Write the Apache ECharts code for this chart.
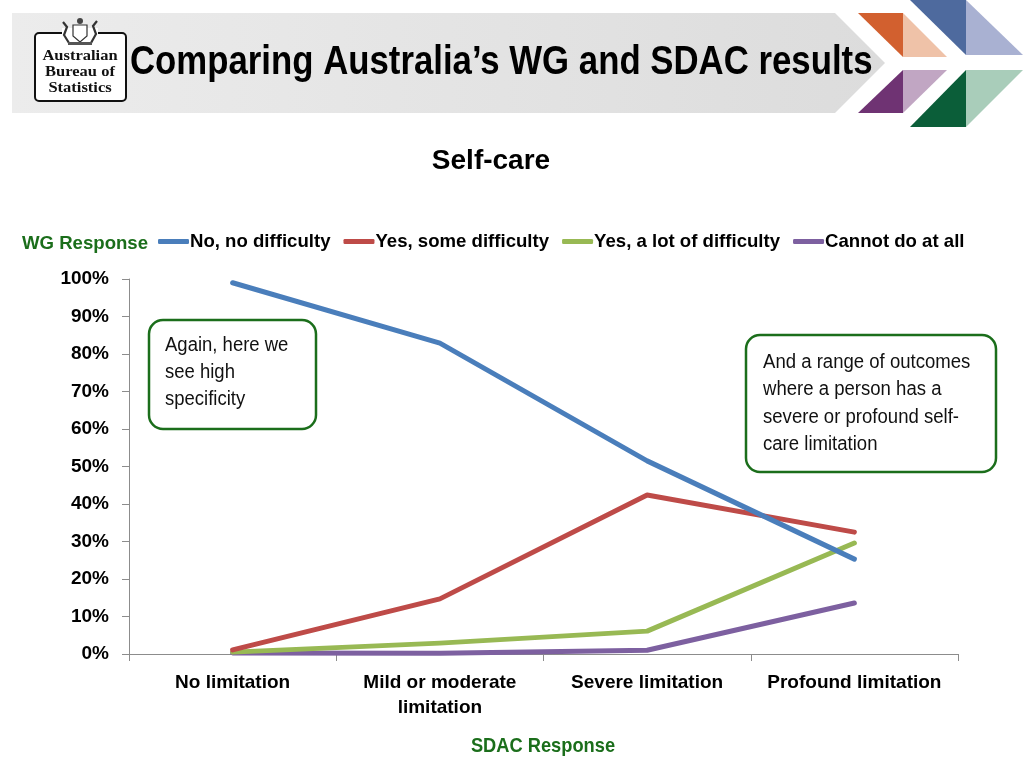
<!DOCTYPE html>
<html>
<head>
<meta charset="utf-8">
<script src="https://cdn.jsdelivr.net/npm/echarts@6/dist/echarts.min.js"></script>
<style>
html,body{margin:0;padding:0;background:#fff;}
#chart{width:1024px;height:768px;}
</style>
</head>
<body>
<div id="chart"></div>
<script>
// ---- data ----
const categories = ['No limitation', 'Mild or moderate\nlimitation', 'Severe limitation', 'Profound limitation'];
const seriesNames = ['No, no difficulty', 'Yes, some difficulty', 'Yes, a lot of difficulty', 'Cannot do at all'];
const noDifficulty = [99.0, 82.9, 51.5, 25.3];
const someDifficulty = [1.1, 14.7, 42.4, 32.5];
const lotDifficulty = [0.5, 2.9, 6.1, 29.6];
const cannotDo = [0.3, 0.2, 1.0, 13.6];
const yTicks = {min: 0, max: 100, interval: 10};

const seriesColors = ['#4A7EBB', '#BE4B48', '#98B954', '#7D60A0'];
const sans = '"Liberation Sans", Arial, sans-serif';
const serif = '"Liberation Serif", "DejaVu Serif", serif';
const green = '#1B6E1B';

const chart = echarts.init(document.getElementById('chart'));
const values = [noDifficulty, someDifficulty, lotDifficulty, cannotDo];

const option = {
  backgroundColor: '#ffffff',
  animation: false,
  grid: {left: 129, right: 66, top: 279, bottom: 114, containLabel: false},
  legend: {
    top: 232, left: 158, padding: 0,
    itemWidth: 31, itemHeight: 5, itemGap: 13,
    icon: 'roundRect',
    textStyle: {fontFamily: sans, fontWeight: 'bold', fontSize: 18.6, color: '#000', padding: [0,0,0,-4]},
    data: seriesNames
  },
  xAxis: {
    type: 'category',
    data: categories,
    boundaryGap: true,
    axisLine: {show: true, lineStyle: {color: '#8C8C8C', width: 1}},
    axisTick: {show: true, length: 7, alignWithLabel: false, lineStyle: {color: '#8C8C8C'}},
    axisLabel: {fontFamily: sans, fontWeight: 'bold', fontSize: 19, color: '#000', margin: 16, lineHeight: 25, interval: 0}
  },
  yAxis: {
    type: 'value',
    min: yTicks.min, max: yTicks.max, interval: yTicks.interval,
    axisLine: {show: true, lineStyle: {color: '#8C8C8C', width: 1}},
    axisTick: {show: true, length: 7, lineStyle: {color: '#8C8C8C'}},
    splitLine: {show: false},
    axisLabel: {formatter: '{value}%', fontFamily: sans, fontWeight: 'bold', fontSize: 19, color: '#000', margin: 20}
  },
  series: seriesNames.map((n, i) => ({
    name: n, type: 'line', data: values[i],
    symbol: 'none', smooth: false,
    lineStyle: {color: seriesColors[i], width: 5, cap: 'round', join: 'round'},
    itemStyle: {color: seriesColors[i]},
    z: 2 + (3 - i)
  })),
  graphic: [
    // banner
    {type: 'polygon', shape: {points: [[12,13],[835,13],[885,63],[835,113],[12,113]]},
      style: {fill: new echarts.graphic.LinearGradient(0,0,1,0,[{offset:0,color:'#ececec'},{offset:0.5,color:'#e4e4e4'},{offset:1,color:'#dcdcdc'}])}, z: 0},
    // decorative triangles
    {type: 'polygon', shape: {points: [[858,13],[903,13],[903,57]]}, style: {fill: '#D2602F'}},
    {type: 'polygon', shape: {points: [[903,13],[947,57],[903,57]]}, style: {fill: '#EFC2A8'}},
    {type: 'polygon', shape: {points: [[903,70],[903,113],[858,113]]}, style: {fill: '#6F3373'}},
    {type: 'polygon', shape: {points: [[903,70],[947,70],[903,113]]}, style: {fill: '#C1A6C3'}},
    {type: 'polygon', shape: {points: [[910,0],[966,0],[966,55]]}, style: {fill: '#4E6A9E'}},
    {type: 'polygon', shape: {points: [[966,0],[1023,55],[966,55]]}, style: {fill: '#A9B1D2'}},
    {type: 'polygon', shape: {points: [[966,70],[966,127],[910,127]]}, style: {fill: '#0B5E39'}},
    {type: 'polygon', shape: {points: [[966,70],[1023,70],[966,127]]}, style: {fill: '#A9CDBA'}},
    // logo
    {type: 'rect', shape: {x: 35, y: 33, width: 91, height: 68, r: 4}, style: {fill: '#fff', stroke: '#111', lineWidth: 2}},
    {type: 'rect', shape: {x: 62, y: 28, width: 36, height: 12}, style: {fill: '#fff'}},
    {type: 'polygon', shape: {points: [[73,25],[87,25],[87,36],[80,42],[73,36]]}, style: {fill: '#fff', stroke: '#333', lineWidth: 1.2}},
    {type: 'circle', shape: {cx: 80, cy: 21, r: 3}, style: {fill: '#444'}},
    {type: 'polyline', shape: {points: [[69,43],[64,35],[67,27],[63,22]]}, style: {stroke: '#333', lineWidth: 2.2, fill: null}},
    {type: 'polyline', shape: {points: [[91,43],[96,34],[93,26],[97,21]]}, style: {stroke: '#333', lineWidth: 2.2, fill: null}},
    {type: 'rect', shape: {x: 68, y: 42, width: 24, height: 3}, style: {fill: '#555'}},
    {type: 'text', x: 80, y: 56, scaleX: 1.1, style: {x: 0, y: 0, text: 'Australian', fontFamily: serif, fontWeight: 'bold', fontSize: 15, fill: '#111', align: 'center', verticalAlign: 'middle'}},
    {type: 'text', x: 80, y: 72, scaleX: 1.1, style: {x: 0, y: 0, text: 'Bureau of', fontFamily: serif, fontWeight: 'bold', fontSize: 15, fill: '#111', align: 'center', verticalAlign: 'middle'}},
    {type: 'text', x: 80, y: 88, scaleX: 1.1, style: {x: 0, y: 0, text: 'Statistics', fontFamily: serif, fontWeight: 'bold', fontSize: 15, fill: '#111', align: 'center', verticalAlign: 'middle'}},
    // title
    {type: 'text', x: 130, y: 63, scaleX: 0.848, style: {x: 0, y: 0, text: 'Comparing Australia\u2019s WG and SDAC results', fontFamily: sans, fontWeight: 'bold', fontSize: 41, fill: '#000', align: 'left', verticalAlign: 'middle'}},
    {type: 'text', style: {x: 491, y: 161, text: 'Self-care', fontFamily: sans, fontWeight: 'bold', fontSize: 28, fill: '#000', align: 'center', verticalAlign: 'middle'}},
    // axis titles
    {type: 'text', style: {x: 22, y: 244, text: 'WG Response', fontFamily: sans, fontWeight: 'bold', fontSize: 18.6, fill: green, align: 'left', verticalAlign: 'middle'}},
    {type: 'text', x: 543, y: 746, scaleX: 0.87, style: {x: 0, y: 0, text: 'SDAC Response', fontFamily: sans, fontWeight: 'bold', fontSize: 21, fill: green, align: 'center', verticalAlign: 'middle'}},
    // annotation boxes
    {type: 'rect', shape: {x: 149, y: 320, width: 167, height: 109, r: 14}, style: {fill: '#fff', stroke: green, lineWidth: 2.5}, z: 10},
    {type: 'text', x: 165, y: 332, scaleX: 0.925, style: {x: 0, y: 0, text: 'Again, here we\nsee high\nspecificity', fontFamily: sans, fontSize: 20, lineHeight: 27, fill: '#111', align: 'left', verticalAlign: 'top'}, z: 11},
    {type: 'rect', shape: {x: 746, y: 335, width: 250, height: 137, r: 14}, style: {fill: '#fff', stroke: green, lineWidth: 2.5}, z: 10},
    {type: 'text', x: 763, y: 349, scaleX: 0.928, style: {x: 0, y: 0, text: 'And a range of outcomes\nwhere a person has a\nsevere or profound self-\ncare limitation', fontFamily: sans, fontSize: 20, lineHeight: 27.3, fill: '#111', align: 'left', verticalAlign: 'top'}, z: 11}
  ]
};
chart.setOption(option);
</script>
</body>
</html>
